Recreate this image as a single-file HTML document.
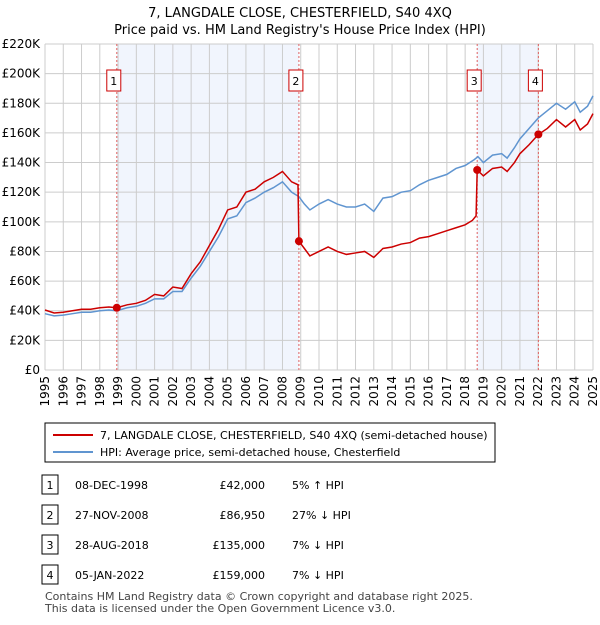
<!DOCTYPE html>
<html><head><meta charset="utf-8"><style>
body{margin:0;background:#fff;font-family:"Liberation Sans","DejaVu Sans",sans-serif;}
svg text{font-family:"DejaVu Sans","Liberation Sans",sans-serif;}
</style></head><body>
<svg id="c" width="600" height="620" viewBox="0 0 600 620" xmlns="http://www.w3.org/2000/svg">
<text x="300" y="17" text-anchor="middle" font-size="13">7, LANGDALE CLOSE, CHESTERFIELD, S40 4XQ</text>
<text x="300" y="34" text-anchor="middle" font-size="13">Price paid vs. HM Land Registry's House Price Index (HPI)</text>
<g id="plot"></g>
<g>
<rect x="45" y="423" width="450" height="39" fill="#fff" stroke="#000" stroke-width="1"/>
<line x1="53" y1="435" x2="93" y2="435" stroke="#cc0000" stroke-width="2"/>
<text x="100" y="439" font-size="11">7, LANGDALE CLOSE, CHESTERFIELD, S40 4XQ (semi-detached house)</text>
<line x1="53" y1="452" x2="93" y2="452" stroke="#6095d0" stroke-width="2"/>
<text x="100" y="456" font-size="11">HPI: Average price, semi-detached house, Chesterfield</text>
</g>
<g id="table" font-size="11"></g>
<text x="45" y="600" font-size="11" fill="#444">Contains HM Land Registry data © Crown copyright and database right 2025.</text>
<text x="45" y="612" font-size="11" fill="#444">This data is licensed under the Open Government Licence v3.0.</text>
</svg>
<script>
const yTicks=[0,20,40,60,80,100,120,140,160,180,200,220];
const yLabels=["£0","£20K","£40K","£60K","£80K","£100K","£120K","£140K","£160K","£180K","£200K","£220K"];
const years=[1995,1996,1997,1998,1999,2000,2001,2002,2003,2004,2005,2006,2007,2008,2009,2010,2011,2012,2013,2014,2015,2016,2017,2018,2019,2020,2021,2022,2023,2024,2025];
const hpiT=[1995,1995.5,1996,1996.5,1997,1997.5,1998,1998.5,1998.93,1999.5,2000,2000.5,2001,2001.5,2002,2002.5,2003,2003.5,2004,2004.5,2005,2005.5,2006,2006.5,2007,2007.5,2008,2008.5,2008.9,2009.2,2009.5,2010,2010.5,2011,2011.5,2012,2012.5,2013,2013.5,2014,2014.5,2015,2015.5,2016,2016.5,2017,2017.5,2018,2018.5,2018.7,2019,2019.5,2020,2020.3,2020.7,2021,2021.5,2022,2022.5,2023,2023.5,2024,2024.3,2024.7,2025];
const hpiV=[38,36.5,37,38,39,39,40,40.5,40,42,43,45,48,48,53,53,62,70,80,90,102,104,113,116,120,123,127,120,117,112,108,112,115,112,110,110,112,107,116,117,120,121,125,128,130,132,136,138,142,144,140,145,146,143,150,156,163,170,175,180,176,181,174,178,185];
const ppT=[1995,1995.5,1996,1996.5,1997,1997.5,1998,1998.5,1998.93,1999.5,2000,2000.5,2001,2001.5,2002,2002.5,2003,2003.5,2004,2004.5,2005,2005.5,2006,2006.5,2007,2007.5,2008,2008.5,2008.85,2008.9,2009.2,2009.5,2010,2010.5,2011,2011.5,2012,2012.5,2013,2013.5,2014,2014.5,2015,2015.5,2016,2016.5,2017,2017.5,2018,2018.4,2018.6,2018.66,2019,2019.5,2020,2020.3,2020.7,2021,2021.5,2022.01,2022.5,2023,2023.5,2024,2024.3,2024.7,2025];
const ppV=[40.5,38.5,39,40,41,41,42,42.5,42,44,45,47,51,50,56,55,65,73,84,95,108,110,120,122,127,130,134,127,125,86.95,82,77,80,83,80,78,79,80,76,82,83,85,86,89,90,92,94,96,98,101,104,135,131,136,137,134,140,146,152,159,163,169,164,169,162,166,173];
const saleT=[1998.93,2008.9,2018.66,2022.01];
const saleV=[42,86.95,135,159];
const saleDates=["08-DEC-1998","27-NOV-2008","28-AUG-2018","05-JAN-2022"];
const salePrices=["£42,000","£86,950","£135,000","£159,000"];
const saleRel=["5% \u2191 HPI","27% \u2193 HPI","7% \u2193 HPI","7% \u2193 HPI"];

const NS="http://www.w3.org/2000/svg";
const L=45,R=593,T=44,B=370;
const X=t=>L+(t-1995)/30*(R-L);
const Y=v=>B-v/220*(B-T);
const plot=document.getElementById('plot');
function mk(tag,attrs,parent){const e=document.createElementNS(NS,tag);for(const k in attrs)e.setAttribute(k,attrs[k]);(parent||plot).appendChild(e);return e;}
for(let i=0;i<4;i+=2){const r=mk('rect',{x:X(saleT[i]),y:T,width:X(saleT[i+1])-X(saleT[i]),height:B-T,fill:'#eef3fc',opacity:0.8});

}
years.forEach(y=>{const l=mk('line',{x1:X(y),x2:X(y),y1:T,y2:B,stroke:'#cccccc','stroke-width':1});


const tx=X(y)+4,ty=B+6;const t=mk('text',{x:tx,y:ty,'font-size':12,'text-anchor':'end',transform:`rotate(-90 ${tx} ${ty})`});t.textContent=y;

});
yTicks.forEach((v,i)=>{const l=mk('line',{x1:L,x2:R,y1:Y(v),y2:Y(v),stroke:'#cccccc','stroke-width':1});


const t=mk('text',{x:40,y:Y(v)+4,'font-size':12,'text-anchor':'end'});t.textContent=yLabels[i];

});
saleT.forEach((s,i)=>{const l=mk('line',{x1:X(s),x2:X(s),y1:T,y2:B,stroke:'#e06060','stroke-width':1,'stroke-dasharray':'2,2'});


const bx=mk('rect',{x:X(s)-10,y:70,width:14,height:21,fill:'#fff',stroke:'#cc0000'});


const t=mk('text',{x:X(s)-3,y:85,'font-size':11,'text-anchor':'middle'});t.textContent=i+1;

});
const hp=mk('polyline',{points:hpiT.map((t,i)=>X(t)+','+Y(hpiV[i])).join(' '),fill:'none',stroke:'#6095d0','stroke-width':1.5});


const pp=mk('polyline',{points:ppT.map((t,i)=>X(t)+','+Y(ppV[i])).join(' '),fill:'none',stroke:'#cc0000','stroke-width':1.5});


saleT.forEach((s,i)=>{const c=mk('circle',{cx:X(s),cy:Y(saleV[i]),r:4,fill:'#cc0000'});

});
const tb=document.getElementById('table');
const rowsY=[485,515,545,575];
rowsY.forEach((y,i)=>{const b=mk('rect',{x:42,y:y-10,width:16,height:19,fill:'#fff',stroke:'#000'},tb);


const cells=[[50,i+1,'middle'],[75,saleDates[i],'start'],[265,salePrices[i],'end'],[292,saleRel[i],'start']];
cells.forEach(c=>{const t=mk('text',{x:c[0],y:y+4,'text-anchor':c[2]},tb);t.textContent=c[1];

});});
</script>
</body></html>
